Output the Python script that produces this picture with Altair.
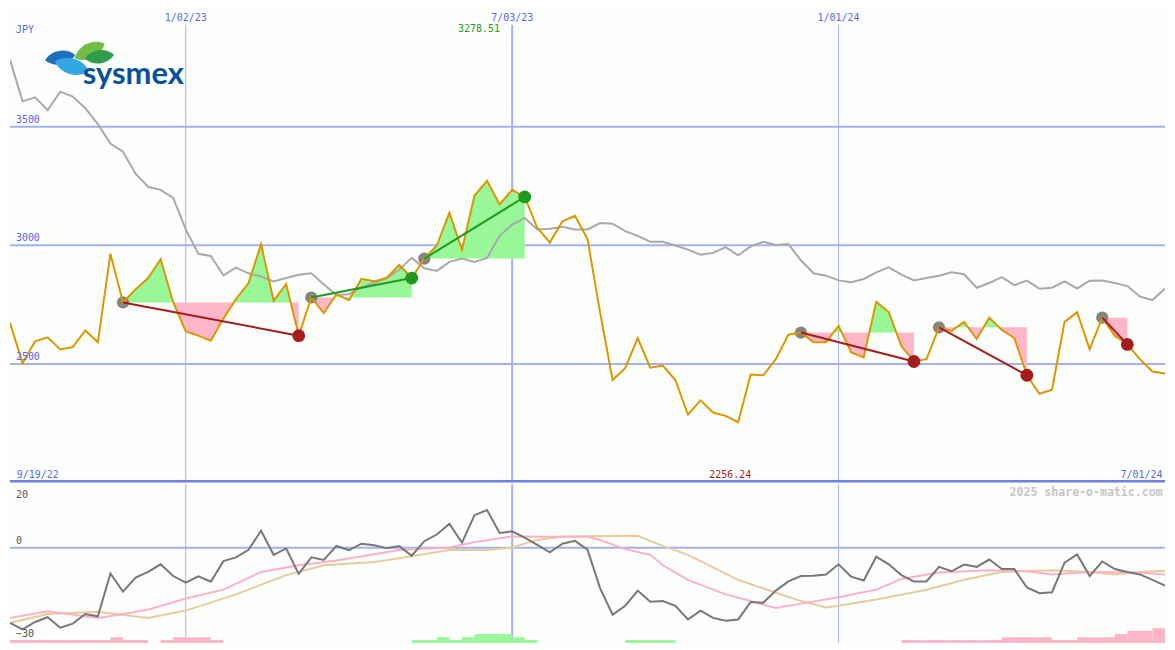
import altair as alt
import numpy as np
import pandas as pd

# ---------------- data ----------------
first_week = "2022-09-26"

price = [2673, 2503, 2595, 2612, 2561, 2571, 2641, 2591, 2964, 2759,
         2814, 2862, 2941, 2760, 2637, 2619, 2598, 2691, 2773, 2841,
         3005, 2766, 2837, 2619, 2780, 2714, 2794, 2769, 2858, 2848,
         2862, 2917, 2862, 2944, 2999, 3138, 2981, 3210, 3272, 3172,
         3234, 3204, 3074, 3012, 3101, 3124, 3026, 2718, 2432, 2482,
         2609, 2484, 2493, 2432, 2286, 2346, 2295, 2281, 2254, 2455,
         2452, 2520, 2623, 2632, 2591, 2591, 2660, 2548, 2527, 2762,
         2718, 2575, 2510, 2520, 2654, 2639, 2677, 2605, 2695, 2643,
         2609, 2452, 2374, 2391, 2677, 2718, 2561, 2695, 2619, 2582,
         2520, 2468, 2459]

avg_line = [3783, 3607, 3624, 3570, 3648, 3627, 3578, 3511, 3429, 3395,
            3302, 3247, 3234, 3200, 3067, 2964, 2955, 2873, 2906, 2882,
            2869, 2848, 2862, 2876, 2882, 2835, 2791, 2794, 2824, 2841,
            2862, 2897, 2947, 2903, 2892, 2930, 2944, 2930, 2947, 3040,
            3087, 3115, 3067, 3070, 3078, 3067, 3067, 3094, 3091, 3060,
            3040, 3015, 3015, 2999, 2982, 2960, 2968, 2992, 2958, 2995,
            3015, 3001, 3005, 2937, 2882, 2872, 2852, 2844, 2858, 2886,
            2907, 2876, 2852, 2862, 2872, 2886, 2878, 2821, 2841, 2866,
            2832, 2851, 2817, 2821, 2848, 2818, 2851, 2852, 2841, 2828,
            2784, 2769, 2818]

osc = [-23.7, -25.7, -23.4, -21.9, -25.2, -23.9, -20.9, -21.6, -8.1, -13.8,
       -9.4, -7.6, -5.2, -8.9, -11.0, -9.0, -10.7, -4.2, -3.0, -0.6,
       5.4, -2.2, -0.2, -8.2, -3.0, -3.8, 0.6, -0.7, 1.3, 0.8,
       -0.1, 0.6, -2.5, 2.1, 4.2, 7.6, 1.6, 10.3, 11.9, 4.7,
       5.2, 3.2, 0.9, -1.4, 1.3, 2.2, -0.6, -12.7, -21.1, -18.3,
       -13.5, -17.0, -16.8, -18.3, -22.6, -19.8, -22.1, -23.0, -22.6, -17.1,
       -17.3, -13.5, -10.6, -8.9, -8.8, -8.4, -5.2, -9.1, -10.3, -2.8,
       -5.2, -8.6, -10.6, -10.6, -6.0, -7.4, -5.3, -6.0, -3.7, -6.7,
       -6.7, -12.5, -14.3, -14.0, -4.7, -2.1, -8.9, -4.3, -6.7, -7.6,
       -8.4, -10.1, -11.9]

pink_idx = [0, 3, 7, 9, 11, 14, 17, 20, 23, 26, 31, 35, 37, 40, 43, 46, 47, 49,
            51, 52, 54, 57, 59, 61, 63, 66, 69, 71, 74, 78, 81, 83, 86, 90, 92]
pink_val = [-22.1, -20.0, -22.1, -20.9, -19.5, -16.0, -13.2, -7.6, -5.5, -4.0,
            -0.7, 0.1, 1.8, 3.6, 3.5, 3.5, 2.5, -0.4, -2.2, -5.5, -10.1, -14.7,
            -16.8, -19.0, -17.6, -15.6, -13.2, -9.8, -7.8, -7.1, -7.4, -8.4,
            -7.6, -7.8, -8.4]

tan_idx = [0, 3, 7, 11, 14, 18, 22, 25, 29, 31, 35, 38, 40, 42, 44, 50, 52, 54,
           58, 63, 65, 66, 69, 73, 76, 79, 83, 86, 88, 90, 92]
tan_val = [-23.7, -20.9, -20.2, -22.1, -19.8, -14.7, -8.6, -5.5, -4.5, -3.3,
           -0.7, -0.7, 0.1, 2.5, 3.6, 3.8, 0.6, -2.2, -10.1, -16.8, -18.8, -18.3,
           -16.3, -13.2, -10.1, -7.6, -7.1, -7.6, -8.4, -7.6, -7.2]

bar_signal = [-0.9, -0.9, -0.9, -0.9, -0.9, -0.9, -0.9, -0.9, -1.8, -0.9,
              -0.9, 0, -0.9, -1.8, -1.8, -1.8, -0.9, 0, 0, 0,
              0, 0, 0, 0, 0, 0, 0, 0, 0, 0,
              0, 0, 0.9, 0.9, 1.8, 0.9, 1.8, 2.8, 2.8, 2.8,
              1.8, 0.9, 0, 0, 0, 0, 0, 0, 0, 0.9,
              0.9, 0.9, 0.9, 0, 0, 0, 0, 0, 0, 0,
              0, 0, 0, 0, 0, 0, 0, 0, 0, 0,
              0, -0.9, -0.9, -0.9, -0.9, -0.9, -0.9, -0.9, -0.9, -1.8,
              -1.8, -1.8, -1.8, -0.9, -0.9, -1.8, -1.8, -1.8, -2.8, -3.8,
              -3.8, -4.6, -4.6]

# patterns: (start week index, end week index, direction)
pat_start = [9, 24, 33, 63, 74, 87]
pat_end = [23, 32, 41, 72, 81, 89]
pat_kind = ["down", "up", "up", "down", "down", "down"]

price_ticks = [2500, 3000, 3500]
date_ticks = ["2023-01-02", "2023-07-03", "2024-01-01"]
date_tick_labels = ["1/02/23", "7/03/23", "1/01/24"]
date_tick_weight = [1, 2, 1]
osc_grid = [0]
range_labels = ["9/19/22", "7/01/24"]
hi_text = "3278.51"
lo_text = "2256.24"
unit_text = "JPY"
watermark = "2025 share-o-matic.com"

# ---------------- layout / style ----------------
W, HU, HL = 1159, 475, 159
SX, SYU, SYL = W / 1175, HU / 487, HL / 163
FONT = "DejaVu Sans Mono"
BLUE = "#5a66f0"
GRID = "#a4b0f4"
ORANGE = "#dc9600"
GREEN_FILL = "#98f898"
PINK_FILL = "#fbb6c8"
KIND_COLORS = {"up": "#1f9a1f", "down": "#a51c1c"}


def to_ms(values):
    d = pd.to_datetime(pd.Series(values))
    return ((d - pd.Timestamp("1970-01-01")) // pd.Timedelta("1ms")).astype("int64").tolist()


weeks = pd.date_range(first_week, periods=len(price), freq="7D")
t = to_ms(weeks)
WEEK = 7 * 24 * 3600 * 1000

df = pd.DataFrame({"t": t, "price": price, "avg": avg_line, "osc": osc})

# fills between price and each pattern's starting level (with crossing points)
rows = []
for k, (s, e) in enumerate(zip(pat_start, pat_end)):
    lvl = price[s]
    for i in range(s, e + 1):
        rows.append({"t": t[i], "p": price[i], "lvl": lvl, "pid": k})
        if i < e:
            d0, d1 = price[i] - lvl, price[i + 1] - lvl
            if d0 * d1 < 0:
                f = d0 / (d0 - d1)
                rows.append({"t": t[i] + f * (t[i + 1] - t[i]), "p": lvl, "lvl": lvl, "pid": k})
df_fill = pd.DataFrame(rows)
df_fill["hi"] = np.maximum(df_fill["p"], df_fill["lvl"])
df_fill["lo"] = np.minimum(df_fill["p"], df_fill["lvl"])

df_pat = pd.DataFrame({
    "pid": range(len(pat_start)),
    "ts": [t[i] for i in pat_start], "ps": [price[i] for i in pat_start],
    "te": [t[i] for i in pat_end], "pe": [price[i] for i in pat_end],
    "kind": pat_kind,
})
df_pat["col"] = df_pat["kind"].map(KIND_COLORS)
tr_rows = []
for _, r in df_pat.iterrows():
    tr_rows.append({"pid": r.pid, "t": r.ts, "p": r.ps, "col": r.col})
    tr_rows.append({"pid": r.pid, "t": r.te, "p": r.pe, "col": r.col})
df_tr = pd.DataFrame(tr_rows)

df_pt = pd.DataFrame({"v": price_ticks, "lab": [str(v) for v in price_ticks]})
df_dt = pd.DataFrame({"t": to_ms(date_ticks), "lab": date_tick_labels, "w": date_tick_weight})
i_hi = int(np.argmax(price))
i_lo = int(np.argmin(price))
df_hi = pd.DataFrame({"t": [t[i_hi]], "lab": [hi_text]})
df_lo = pd.DataFrame({"t": [t[i_lo]], "lab": [lo_text]})

df_pink = pd.DataFrame({"t": [t[i] for i in pink_idx], "v": pink_val})
df_tan = pd.DataFrame({"t": [t[i] for i in tan_idx], "v": tan_val})
df_bar = pd.DataFrame({"t": t, "t2": [x + WEEK for x in t], "s": bar_signal})
df_bar = df_bar[df_bar["s"] != 0].copy()
df_bar["top"] = -30 + df_bar["s"].abs()
df_bar["col"] = np.where(df_bar["s"] > 0, GREEN_FILL, PINK_FILL)

xS = alt.Scale(type="utc", domain=[t[0], t[-1]])
yU = alt.Scale(domain=[2000, 3996], zero=False, nice=False)
yL = alt.Scale(domain=[-30, 20], zero=False, nice=False)


def X(f="t"):
    return alt.X(f"{f}:T", scale=xS, axis=None)


def one():
    return alt.Chart(pd.DataFrame({"k": [0]}))


col_id = alt.Color("col:N", scale=None, legend=None)

# ---------------- upper panel ----------------
hgrid = alt.Chart(df_pt).mark_rule(color=GRID, strokeWidth=2).encode(
    y=alt.Y("v:Q", scale=yU, axis=None))
vgrid_u = alt.Chart(df_dt).mark_rule(color=GRID).encode(
    x=X(), y=alt.value(16 * SYU), y2=alt.value(HU),
    strokeWidth=alt.StrokeWidth("w:Q", scale=None, legend=None))
border = one().mark_rule(color="#6e7fe8", strokeWidth=2.5).encode(
    x=alt.value(0), x2=alt.value(W), y=alt.value(HU - 1.2))

fill_g = alt.Chart(df_fill).mark_area(color=GREEN_FILL, opacity=1, clip=True).encode(
    x=X(), y=alt.Y("hi:Q", scale=yU, axis=None), y2="lvl:Q", detail="pid:N")
fill_p = alt.Chart(df_fill).mark_area(color=PINK_FILL, opacity=1, clip=True).encode(
    x=X(), y=alt.Y("lo:Q", scale=yU, axis=None), y2="lvl:Q", detail="pid:N")

avg_ln = alt.Chart(df).mark_line(color="#a9a9a9", strokeWidth=2, clip=True).encode(
    x=X(), y=alt.Y("avg:Q", scale=yU, axis=None))
start_pts = alt.Chart(df_pat).mark_circle(size=150, color="#848484", opacity=1).encode(
    x=X("ts"), y=alt.Y("ps:Q", scale=yU, axis=None))
price_ln = alt.Chart(df).mark_line(color=ORANGE, strokeWidth=2, clip=True).encode(
    x=X(), y=alt.Y("price:Q", scale=yU, axis=None))
trend_ln = alt.Chart(df_tr).mark_line(strokeWidth=2).encode(
    x=X(), y=alt.Y("p:Q", scale=yU, axis=None), detail="pid:N", color=col_id)
end_pts = alt.Chart(df_pat).mark_circle(size=165, opacity=1).encode(
    x=X("te"), y=alt.Y("pe:Q", scale=yU, axis=None), color=col_id)

txt = dict(font=FONT, fontSize=10)
pt_lab = alt.Chart(df_pt).mark_text(color=BLUE, align="left", baseline="bottom", dy=-2, **txt).encode(
    x=alt.value(6 * SX), y=alt.Y("v:Q", scale=yU, axis=None), text="lab:N")
dt_lab = alt.Chart(df_dt).mark_text(color=BLUE, align="center", baseline="middle", **txt).encode(
    x=X(), y=alt.value(9 * SYU), text="lab:N")
jpy = one().mark_text(text=unit_text, color=BLUE, align="left", baseline="middle", **txt).encode(
    x=alt.value(6 * SX), y=alt.value(21.5 * SYU))
first_lab = one().mark_text(text=range_labels[0], color=BLUE, align="left", baseline="middle", **txt).encode(
    x=alt.value(7 * SX), y=alt.value(479 * SYU))
last_lab = one().mark_text(text=range_labels[1], color=BLUE, align="right", baseline="middle", **txt).encode(
    x=alt.value(1172.5 * SX), y=alt.value(479 * SYU))
hi_lab = alt.Chart(df_hi).mark_text(color="#259b25", align="center", baseline="middle", dx=-8, **txt).encode(
    x=X(), y=alt.value(21 * SYU), text="lab:N")
lo_lab = alt.Chart(df_lo).mark_text(color="#a31c1c", align="center", baseline="middle", dx=-8, **txt).encode(
    x=X(), y=alt.value(479 * SYU), text="lab:N")

# logo (decoration)
LEAF = "M -1 0 C -0.5 -0.6 0.5 -0.6 1 0 C 0.5 0.6 -0.5 0.6 -1 0 Z"
leaves = []
for cx, cy, w, ang, col in [(51, 50, 31, 350, "#1f6fbf"), (63, 59, 36, 16, "#34a6e2"),
                            (81, 43, 34, 334, "#72bd45"), (91, 49, 30, 352, "#2f9c4b")]:
    leaves.append(one().mark_point(shape=LEAF, filled=True, opacity=1, color=col,
                                   size=(w * SX) ** 2, angle=ang, strokeWidth=0).encode(
        x=alt.value(cx * SX), y=alt.value(cy * SYU)))
logo_txt = one().mark_text(text="sysmex", font="Lato", fontWeight="bold", fontSize=31,
                           color="#0a4f9f", align="left", baseline="alphabetic").encode(
    x=alt.value(74 * SX), y=alt.value(77 * SYU))

upper = alt.layer(hgrid, vgrid_u, fill_g, fill_p, avg_ln, start_pts, price_ln, trend_ln, end_pts,
                  pt_lab, dt_lab, jpy, first_lab, last_lab, hi_lab, lo_lab, *leaves, logo_txt,
                  border).properties(width=W, height=HU)

# ---------------- lower panel ----------------
lgrid = alt.Chart(pd.DataFrame({"v": osc_grid})).mark_rule(color=GRID, strokeWidth=2).encode(
    y=alt.Y("v:Q", scale=yL, axis=None))
vgrid_l = alt.Chart(df_dt).mark_rule(color=GRID).encode(
    x=X(), y=alt.value(0), y2=alt.value(HL),
    strokeWidth=alt.StrokeWidth("w:Q", scale=None, legend=None))
bars = alt.Chart(df_bar).mark_rect(clip=True).encode(
    x=X(), x2="t2:T", y=alt.Y("top:Q", scale=yL, axis=None), y2=alt.value(HL), color=col_id)
tan_ln = alt.Chart(df_tan).mark_line(color="#e6cc9c", strokeWidth=2, clip=True).encode(
    x=X(), y=alt.Y("v:Q", scale=yL, axis=None))
pink_ln = alt.Chart(df_pink).mark_line(color="#fbb0c6", strokeWidth=2, clip=True).encode(
    x=X(), y=alt.Y("v:Q", scale=yL, axis=None))
osc_ln = alt.Chart(df).mark_line(color="#777777", strokeWidth=2, clip=True).encode(
    x=X(), y=alt.Y("osc:Q", scale=yL, axis=None))

GRAYTXT = "#555555"
l20 = one().mark_text(text="20", color=GRAYTXT, align="left", baseline="top", **txt).encode(
    x=alt.value(6 * SX), y=alt.value(5.5 * SYL))
l0 = alt.Chart(pd.DataFrame({"v": osc_grid, "lab": [str(v) for v in osc_grid]})).mark_text(
    color=GRAYTXT, align="left", baseline="bottom", dy=-2, **txt).encode(
    x=alt.value(6 * SX), y=alt.Y("v:Q", scale=yL, axis=None), text="lab:N")
l30 = one().mark_text(text="\u221230", color=GRAYTXT, align="left", baseline="bottom", **txt).encode(
    x=alt.value(6 * SX), y=alt.value(HL - 4 * SYL))
wm = one().mark_text(text=watermark, font=FONT, fontSize=11.6, fontWeight="bold", color="#c6c6c6",
                     align="right", baseline="middle").encode(
    x=alt.value(1172.5 * SX), y=alt.value(9 * SYL))

lower = alt.layer(lgrid, vgrid_l, bars, tan_ln, pink_ln, osc_ln, l20, l0, l30, wm).properties(
    width=W, height=HL)

chart = alt.vconcat(upper, lower, spacing=0).properties(
    padding=0, background="#fcfefc").configure_view(stroke=None)

chart.save("out.html", embed_options={"renderer": "svg", "actions": False})
